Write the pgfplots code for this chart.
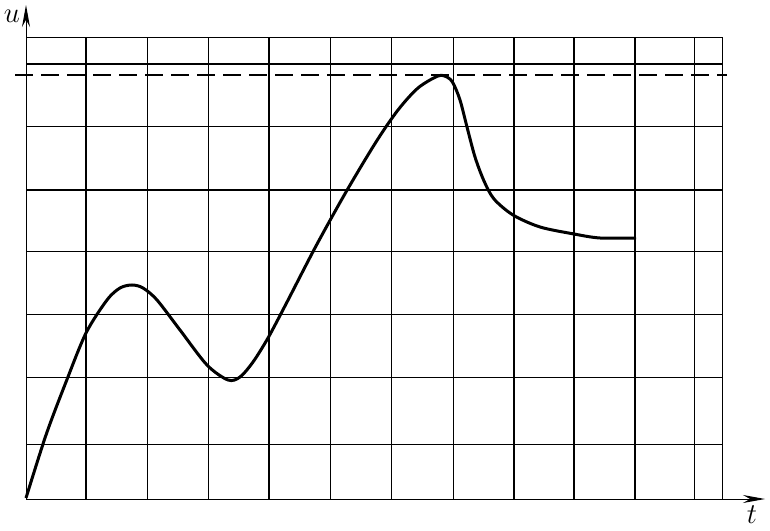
\documentclass[border=0pt]{standalone}
\usepackage{pgfplots}
\pgfplotsset{compat=1.18}
\usetikzlibrary{arrows.meta}

\begin{document}
\begin{tikzpicture}
\useasboundingbox (-13pt,-15.5pt) rectangle (372pt,249.5pt);
\begin{axis}[
x=0.5pt, y=0.5pt,
xmin=0, xmax=696, ymin=0, ymax=461,
scale only axis,
clip=false,
axis line style={line width=0.5pt, black},
xtick={121,182,304,365,427,668},
ytick={55,122,184,247,372},
xticklabels={}, yticklabels={},
major tick length=0pt,
grid=major,
grid style={line width=0.5pt, black},
]
% heavier grid lines
\foreach \gx in {60,243,488,548,609} {
  \edef\tmp{\noexpand\draw[line width=1.4pt] (axis cs:\gx,0) -- (axis cs:\gx,461);}\tmp
}
\foreach \gy in {309,435} {
  \edef\tmp{\noexpand\draw[line width=1.4pt] (axis cs:0,\gy) -- (axis cs:696,\gy);}\tmp
}
% limit line
\addplot[black, line width=1.1pt, dash pattern=on 9pt off 4pt] coordinates {(-11,424) (701,424)};
% response curve
\addplot[black, line width=1.5pt, smooth] coordinates {
(0,1) (20,64) (40,117) (60,166) (81,199) (94,211) (106,214) (117,211)
(131,199) (154,169) (181,134) (202,119) (214,122) (227,137) (242,161)
(260,195) (290,253) (320,307) (350,357) (372,389) (392,411)
(412,423) (421,422) (427,416) (434,399) (441,372) (449,342) (458,318)
(468,300) (487,284) (514,272) (548,265) (574,261) (610,261)
};
\draw[line width=0.5pt, -{Stealth[length=11pt, width=4pt]}] (axis cs:0,0) -- (axis cs:739,0);
\draw[line width=0.5pt, -{Stealth[length=11pt, width=4pt]}] (axis cs:0,0) -- (axis cs:0,494);
\node[font=\Large] at (axis cs:-14,483) {$u$};
\node[font=\Large] at (axis cs:726,-16) {$t$};
\end{axis}
\end{tikzpicture}
\end{document}
